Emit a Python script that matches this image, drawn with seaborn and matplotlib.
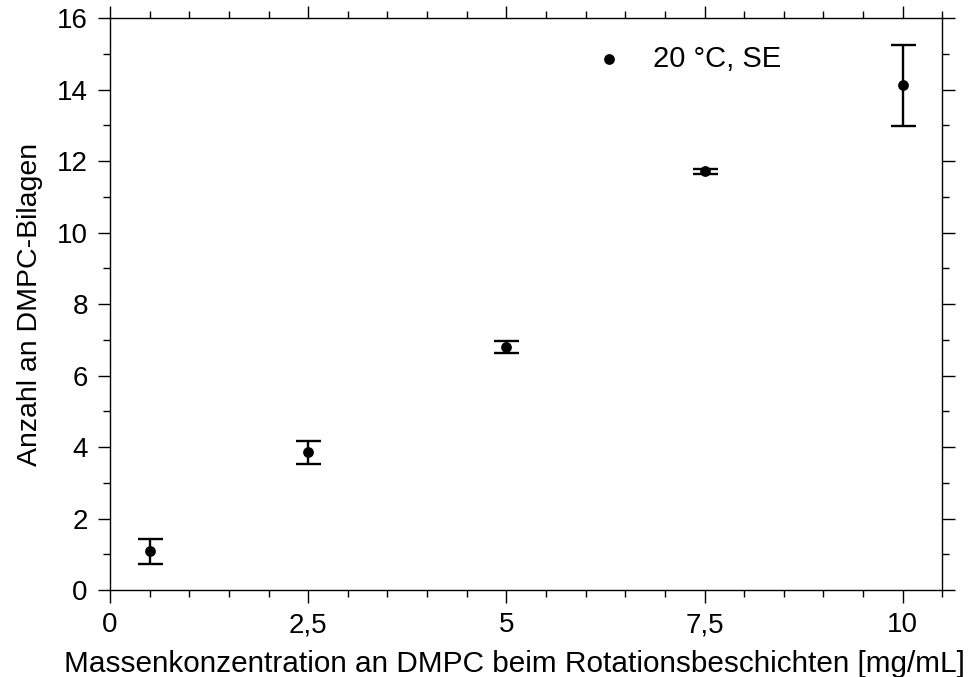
import numpy as np
import pandas as pd
import matplotlib
matplotlib.use('Agg')
import matplotlib.pyplot as plt
import seaborn as sns
from matplotlib.ticker import MultipleLocator

conc = [0.5, 2.5, 5.0, 7.5, 10.0]
bilayers = [1.08, 3.85, 6.79, 11.72, 14.12]
se = [0.35, 0.32, 0.17, 0.07, 1.14]

x_ticks = [0, 2.5, 5, 7.5, 10]
x_ticklabels = ['0', '2,5', '5', '7,5', '10']

df = pd.DataFrame({'conc': conc, 'n': bilayers, 'se': se})

sns.set_theme(style='ticks')
plt.rcParams['font.family'] = ['Liberation Sans', 'DejaVu Sans']
plt.rcParams['axes.labelcolor'] = 'black'
plt.rcParams['text.color'] = 'black'

fig = plt.figure(figsize=(9.78, 6.77), dpi=100)
ax = fig.add_axes([0.1125, 0.1285, 0.851, 0.8445])

ax.errorbar(df['conc'], df['n'], yerr=df['se'], fmt='none', ecolor='black',
            elinewidth=1.7, capsize=9, capthick=1.7, zorder=2)
sns.scatterplot(data=df, x='conc', y='n', ax=ax, color='black', s=60,
                edgecolor='black', linewidth=0, label='20 °C, SE', zorder=3)

ax.set_xlim(0, 10.5)
ax.set_ylim(0, 16)
ax.set_xticks(x_ticks)
ax.set_xticklabels(x_ticklabels)
ax.xaxis.set_minor_locator(MultipleLocator(0.5))
ax.yaxis.set_major_locator(MultipleLocator(2))
ax.yaxis.set_minor_locator(MultipleLocator(1))

for side in ['top', 'right', 'bottom', 'left']:
    ax.spines[side].set_visible(True)
    ax.spines[side].set_linewidth(1.0)
    ax.spines[side].set_color('black')

ax.tick_params(which='both', direction='out', top=True, right=True,
               color='black', width=1.0, labelsize=20, labelcolor='black')
ax.tick_params(which='major', length=9, pad=7)
ax.tick_params(which='minor', length=5)

ax.set_xlabel('Massenkonzentration an DMPC beim Rotationsbeschichten [mg/mL]',
              fontsize=21.4)
ax.xaxis.set_label_coords(0.486, -0.105)
ax.set_ylabel('Anzahl an DMPC-Bilagen', fontsize=20.5, labelpad=10)

leg = ax.legend(loc='upper left', bbox_to_anchor=(0.533, 0.999), frameon=False,
                fontsize=21, handletextpad=0.5, markerscale=1.0)

fig.savefig('out.png', dpi=100)
